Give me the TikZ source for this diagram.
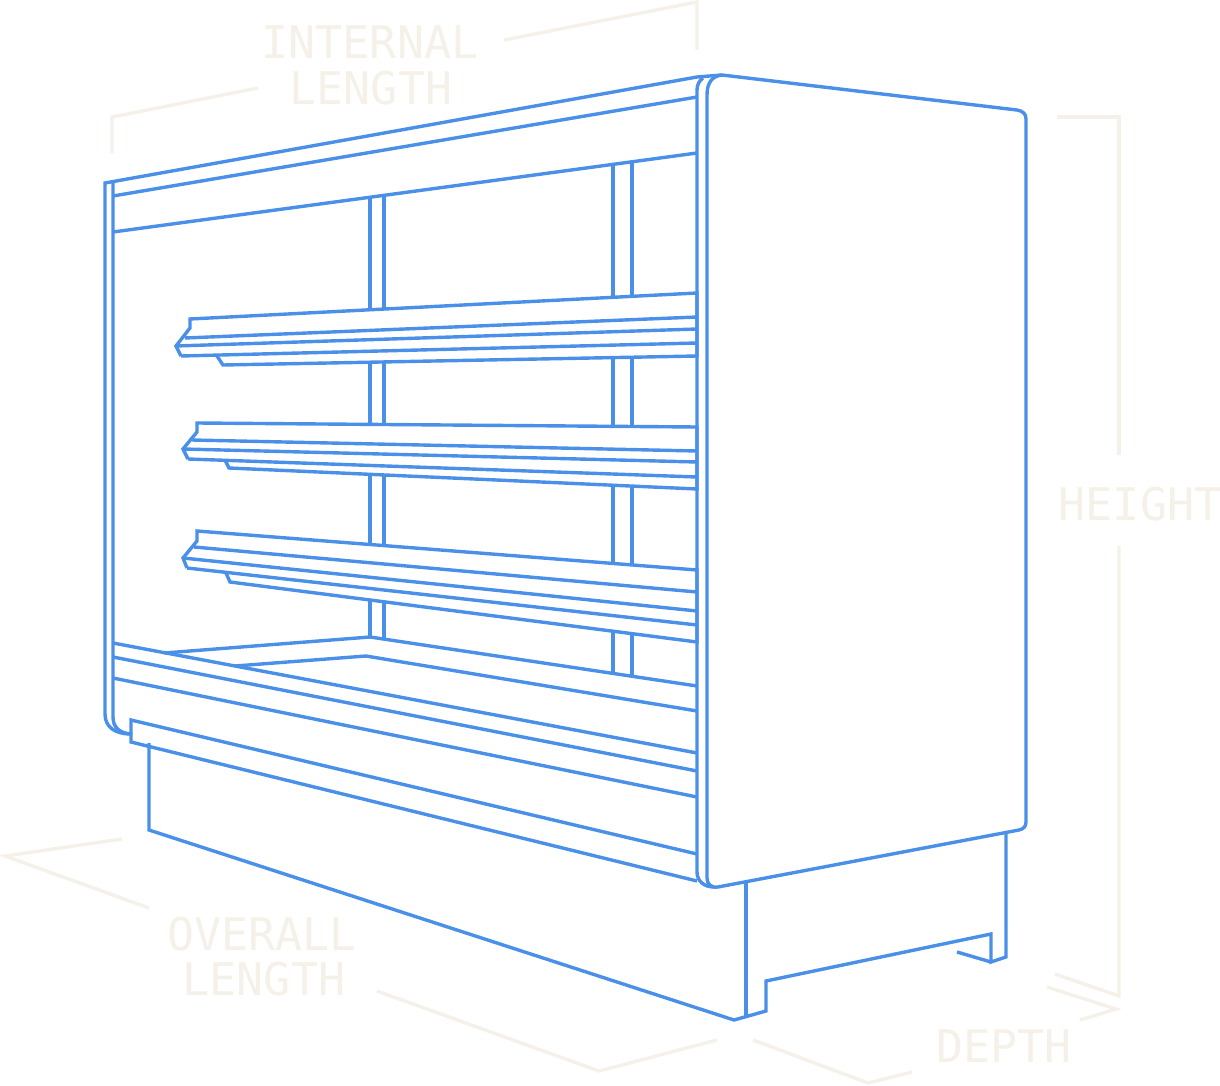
\documentclass[tikz,border=0pt]{standalone}
\usepackage{fontspec}
\setmonofont{DejaVu Sans Mono}
\definecolor{caseblue}{HTML}{4A90E8}
\definecolor{dimbeige}{HTML}{F5F1E8}

\begin{document}
\begin{tikzpicture}[x=1pt,y=-1pt,line width=3.4pt,
    caseline/.style={draw=caseblue,line join=miter},
    dimline/.style={draw=dimbeige},
    dimlabel/.style={anchor=base,inner sep=0pt,text=dimbeige,font=\ttfamily\fontsize{45}{45}\selectfont}]
  \useasboundingbox (0,0) rectangle (1220,1086);
  % dimension lines
  \draw[dimline] (504,40) -- (697,2) -- (697,50);
  \draw[dimline] (258,88) -- (112,117) -- (112,153);
  \draw[dimline] (1057,117) -- (1119,117) -- (1119,455);
  \draw[dimline] (1119,546) -- (1119,996) -- (1055,974);
  \draw[dimline] (1047,987) -- (1116,1009) -- (1080,1020);
  \draw[dimline] (753,1040) -- (868,1083) -- (912,1072);
  \draw[dimline] (122,839) -- (5,856) -- (149,908);
  \draw[dimline] (377,991) -- (599,1071) -- (717,1040);
  \foreach \n/\px/\py/\txt in {intern/370/59/INTERNAL,internb/371/105/LENGTH,
      over/262/950/OVERALL,overb/264/995/LENGTH,height/1140/520/HEIGHT,depth/1004/1062/DEPTH}{
    \node[dimlabel] (lb\n) at (\px,\py) {\txt};
  }
  % uprights behind the shelves
  \foreach \x/\a/\b in {370/197/637,384/195/639,613/164/673,632/162/676}{
    \draw[caseline] (\x,\a) -- (\x,\b);
  }
  % shelves: top left, neck, nose, heel, second line, lip, then heights at the post
  \foreach \tx/\ty/\ny/\lx/\ly/\bx/\by/\mx/\my/\px/\py/\qx/\qy/\ya/\yb/\yc/\yd/\ye in {
      190/319/328/176/346/181/356/185/338/217/356/223/365/293/317/329/343/356,
      197/423/432/183/449/188/459/192/440/225/460/229/468/427/451/462/477/489,
      197/531/541/183/558/187/568/194/547/226/573/230/582/570/592/611/625/642}{
    \draw[caseline,fill=white] (\bx,\by) -- (\lx,\ly) -- (\tx,\ny) -- (\tx,\ty) -- (697,\ya)
      -- (697,\ye) -- (\qx,\qy) -- (\px,\py);
    \draw[caseline] (\mx,\my) -- (697,\yb);
    \draw[caseline] (\lx,\ly) -- (697,\yc);
    \draw[caseline] (\bx,\by) -- (697,\yd);
  }
  % top rails
  \draw[caseline] (113,196) -- (697,97);
  \draw[caseline] (113,232) -- (697,153);
  % floor and front rails
  \draw[caseline] (164,653) -- (370,637) -- (697,686);
  \draw[caseline] (235,666) -- (366,656) -- (697,711);
  \foreach \a/\b in {643/753,657/771,678/797}{
    \draw[caseline] (113,\a) -- (697,\b);
  }
  % plinth
  \draw[caseline] (149,743) -- (149,830) -- (734,1020) -- (766,1011) -- (766,981)
    -- (991,934) -- (991,962) -- (1006,957) -- (1006,831);
  \draw[caseline] (957,952) -- (991,962);
  \draw[caseline] (746,882) -- (746,1016);
  % kick rail
  \draw[caseline] (131,734) -- (131,720) -- (697,854);
  \draw[caseline] (131,733) -- (131,742) -- (697,881);
  % left post
  \draw[caseline] (131,734) .. controls (115,734) and (105,727) .. (105,714) -- (105,183)
    -- (697,77) -- (722,75);
  \draw[caseline] (131,734) .. controls (119,733) and (113,727) .. (113,717) -- (113,182);
  % right post and end panel
  \draw[caseline] (703,78) .. controls (699,81) and (697,85) .. (697,90) -- (697,872)
    .. controls (697,881) and (704,887) .. (714,887);
  \draw[caseline] (722,75) -- (1017,110) .. controls (1023,111) and (1026,114) .. (1026,119)
    -- (1026,822) .. controls (1026,827) and (1023,829) .. (1019,830) -- (718,887)
    .. controls (711,888) and (707,884) .. (707,878) -- (707,95)
    .. controls (707,83) and (712,76) .. (722,75) -- cycle;
\end{tikzpicture}
\end{document}
